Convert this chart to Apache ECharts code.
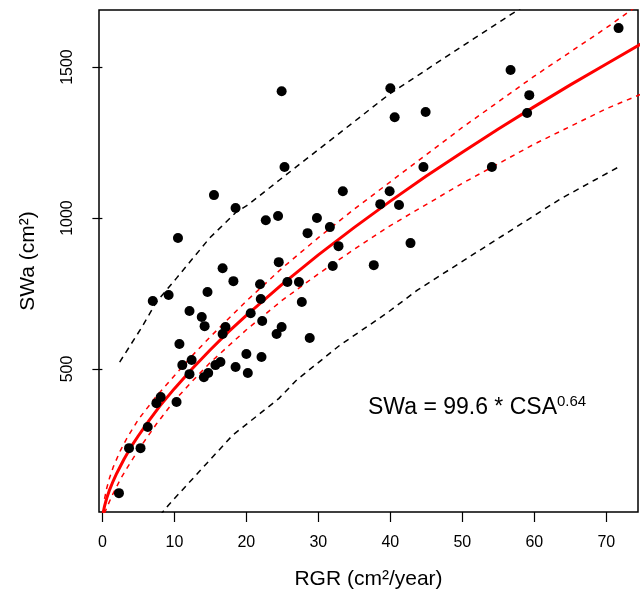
<!DOCTYPE html>
<html>
<head>
<meta charset="utf-8">
<script src="https://cdn.jsdelivr.net/npm/echarts@6.0.0/dist/echarts.min.js"></script>
<style>
  html, body { margin: 0; padding: 0; background: #fff; }
  #chart { width: 640px; height: 596px; }
</style>
</head>
<body>
<div id="chart"></div>
<script>
// observed points
const rgr = [2.3, 3.7, 5.3, 6.3, 7.5, 8.1, 10.3, 7.0, 9.2, 10.5, 10.7, 11.1, 12.4, 12.1, 12.1, 13.8, 14.2,
  14.6, 14.7, 14.1, 15.5, 15.7, 16.4, 16.7, 17.1, 16.7, 18.2, 18.5, 18.5, 20.0, 20.2, 20.6, 21.9, 22.0,
  22.2, 22.1, 22.7, 24.4, 24.5, 24.2, 24.9, 24.9, 25.3, 25.7, 27.3, 27.7, 28.5, 28.8, 29.8, 31.6, 32.0,
  32.8, 33.4, 37.7, 38.6, 39.9, 40.0, 40.6, 41.2, 42.8, 44.6, 44.9, 54.1, 56.7, 59.0, 59.3, 71.7];
const swa = [89, 238, 238, 308, 387, 407, 391, 725, 745, 934, 583, 513, 530, 483, 692, 672, 642,
  755, 487, 473, 1076, 513, 523, 616, 639, 834, 791, 1033, 507, 550, 487, 685, 781, 732,
  659, 540, 993, 1007, 854, 616, 639, 1420, 1169, 788, 788, 722, 950, 603, 1000, 970, 841,
  907, 1089, 844, 1046, 1089, 1430, 1334, 1043, 917, 1169, 1351, 1169, 1490, 1348, 1407, 1629];

// fitted curve
const fitX = [0.1, 0.3, 0.6, 1, 1.5, 2, 3, 4, 5, 6.5, 8, 10, 12.5, 15, 17.5, 20, 25, 30, 35, 40, 45, 50, 55, 60, 65, 70, 75];
const fitY = [23, 46, 72, 100, 129, 155, 201, 243, 279, 330, 378, 435, 502, 564, 623, 678, 781, 878, 969, 1056, 1139, 1218, 1295, 1369, 1441, 1510, 1579];

// confidence band of the fit
const ciX = [0.3, 0.6, 1, 1.5, 2.5, 3.5, 5, 7.5, 10, 12.5, 15, 20, 25, 30, 35, 40, 50, 60, 70, 75];
const ciUpper = [70, 105, 140, 175, 230, 275, 333, 410, 478, 545, 607, 725, 835, 935, 1030, 1120, 1300, 1470, 1630, 1715];
const ciLower = [22, 40, 62, 88, 135, 175, 232, 318, 395, 460, 522, 630, 728, 815, 897, 975, 1115, 1245, 1362, 1412];

// prediction band
const piUpX = [2.4, 5.5, 7.5, 10.3, 14.9, 18.6, 20.0, 21.4, 24.6, 39.9, 51.7, 56.6, 59.3];
const piUpY = [523, 639, 722, 801, 934, 1020, 1040, 1066, 1126, 1411, 1596, 1672, 1712];
const piLoX = [8.0, 9.2, 18.1, 24.5, 27.0, 33.0, 39.5, 43.8, 52.0, 63.6, 68.4, 71.7];
const piLoY = [15, 50, 281, 402, 464, 579, 685, 762, 887, 1063, 1126, 1169];

const xTicks = [0, 10, 20, 30, 40, 50, 60, 70];
const yTicks = [500, 1000, 1500];

const zip = (xs, ys) => xs.map((x, i) => [x, ys[i]]);
const font = 'Liberation Sans, Arial, Helvetica, sans-serif';

const chart = echarts.init(document.getElementById('chart'));

chart.setOption({
  animation: false,
  backgroundColor: '#fff',
  grid: {
    left: 99,
    right: 2,
    top: 10,
    bottom: 84,
    show: true,
    borderColor: '#000',
    borderWidth: 1.5,
    containLabel: false,
    outerBoundsMode: 'none'
  },
  xAxis: {
    type: 'value',
    min: -0.47,
    max: 74.4,
    name: 'RGR (cm²/year)',
    nameLocation: 'middle',
    nameGap: 57,
    nameTextStyle: { color: '#000', fontSize: 21, fontFamily: font },
    axisLine: { show: false },
    splitLine: { show: false },
    axisTick: {
      show: true,
      inside: false,
      length: 10,
      customValues: xTicks,
      lineStyle: { color: '#000', width: 1.2 }
    },
    axisLabel: {
      customValues: xTicks,
      color: '#000',
      fontSize: 16,
      fontFamily: font,
      margin: 23,
      formatter: v => String(v)
    }
  },
  yAxis: {
    type: 'value',
    min: 26.5,
    max: 1689,
    name: 'SWa (cm²)',
    nameLocation: 'middle',
    nameGap: 60,
    nameTextStyle: { color: '#000', fontSize: 21, fontFamily: font },
    axisLine: { show: false },
    splitLine: { show: false },
    axisTick: {
      show: true,
      inside: false,
      length: 10,
      customValues: yTicks,
      lineStyle: { color: '#000', width: 1.2 }
    },
    axisLabel: {
      customValues: yTicks,
      rotate: 90,
      color: '#000',
      fontSize: 16,
      fontFamily: font,
      margin: 23,
      formatter: v => String(v)
    }
  },
  graphic: [{
    type: 'text',
    x: 368,
    y: 394,
    style: {
      text: '{a|SWa = 99.6 * CSA}{b|0.64}',
      rich: {
        a: { fontSize: 23, fontFamily: font, fill: '#000', lineHeight: 28 },
        b: { fontSize: 15, fontFamily: font, fill: '#000', verticalAlign: 'top' }
      }
    }
  }],
  series: [
    {
      name: 'pred upper',
      type: 'line',
      data: zip(piUpX, piUpY),
      showSymbol: false,
      symbol: 'none',
      lineStyle: { color: '#000', width: 1.5, type: [6, 5] }
    },
    {
      name: 'pred lower',
      type: 'line',
      data: zip(piLoX, piLoY),
      showSymbol: false,
      symbol: 'none',
      lineStyle: { color: '#000', width: 1.5, type: [6, 5] }
    },
    {
      name: 'ci upper',
      type: 'line',
      data: zip(ciX, ciUpper),
      showSymbol: false,
      symbol: 'none',
      lineStyle: { color: '#ff0000', width: 1.5, type: [5, 5] }
    },
    {
      name: 'ci lower',
      type: 'line',
      data: zip(ciX, ciLower),
      showSymbol: false,
      symbol: 'none',
      lineStyle: { color: '#ff0000', width: 1.5, type: [5, 5] }
    },
    {
      name: 'fit',
      type: 'line',
      data: zip(fitX, fitY),
      showSymbol: false,
      symbol: 'none',
      lineStyle: { color: '#ff0000', width: 3 }
    },
    {
      name: 'obs',
      type: 'scatter',
      data: zip(rgr, swa),
      symbol: 'circle',
      symbolSize: 10,
      itemStyle: { color: '#000', opacity: 1 },
      z: 10
    }
  ]
});
</script>
</body>
</html>
